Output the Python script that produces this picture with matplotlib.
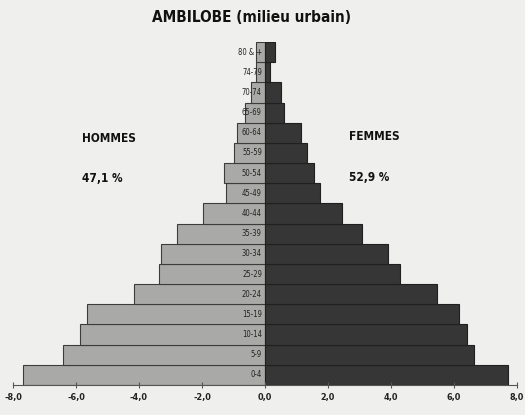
import numpy as np
import matplotlib
matplotlib.use('Agg')
from matplotlib import pyplot as plt
from matplotlib.ticker import FuncFormatter

ages = ['0-4', '5-9', '10-14', '15-19', '20-24', '25-29', '30-34', '35-39',
	'40-44', '45-49', '50-54', '55-59', '60-64', '65-69', '70-74', '74-79',
	'80 & +']
hommes = [7.68, 6.41, 5.87, 5.65, 4.16, 3.37, 3.30, 2.79, 1.98, 1.24,
	1.31, 0.99, 0.90, 0.62, 0.44, 0.29, 0.29]
femmes = [7.71, 6.63, 6.41, 6.16, 5.46, 4.29, 3.90, 3.09, 2.44, 1.75,
	1.57, 1.33, 1.15, 0.60, 0.52, 0.16, 0.32]
titre = 'AMBILOBE (milieu urbain)'
part_hommes = '47,1 %'
part_femmes = '52,9 %'

bg = '#efefed'
fig = plt.figure(figsize=(5.25, 4.15), dpi=100, facecolor=bg)
ax = fig.add_axes([13 / 525, 1 - 385 / 415, 504 / 525, 343 / 415])
ax.set_facecolor(bg)

y = np.arange(len(ages))
ax.barh(y, -np.array(hommes), height=1.0, color='#a9a9a7',
	edgecolor='#3c3c3c', linewidth=0.8)
ax.barh(y, femmes, height=1.0, color='#363636',
	edgecolor='#202020', linewidth=0.8)

fam = 'DejaVu Sans'
cond = 'condensed'

# age group labels sit just left of the centre line
for i, a in enumerate(ages):
	ax.text(-0.1, i, a, ha='right', va='center', fontsize=5.5,
		family=fam, stretch=cond, color='#222222')

ax.set_xlim(-8, 8)
ax.set_ylim(-0.5, len(ages) - 0.5)
ax.set_xticks(np.arange(-8, 9, 2))
ax.xaxis.set_major_formatter(FuncFormatter(
	lambda v, p: ('%.1f' % v).replace('.', ',')))
ax.tick_params(axis='x', direction='inout', length=5, width=0.8,
	colors='#555555', labelcolor='#222222', labelsize=6.5, pad=3)
for lab in ax.get_xticklabels():
	lab.set_family(fam)
	lab.set_stretch(cond)
	lab.set_fontweight('bold')
ax.set_yticks([])
for s in ['left', 'right', 'top']:
	ax.spines[s].set_visible(False)
ax.spines['bottom'].set_color('#555555')
ax.spines['bottom'].set_linewidth(0.8)

kw = dict(fontweight='bold', family=fam, stretch=cond, color='#111111',
	va='center')
fig.text(252 / 525, 1 - 17 / 415, titre, ha='center', fontsize=11, **kw)
fig.text(82 / 525, 1 - 138 / 415, 'HOMMES', ha='left', fontsize=8.5, **kw)
fig.text(82 / 525, 1 - 178 / 415, part_hommes, ha='left', fontsize=8.5, **kw)
fig.text(349 / 525, 1 - 136 / 415, 'FEMMES', ha='left', fontsize=8.5, **kw)
fig.text(349 / 525, 1 - 177 / 415, part_femmes, ha='left', fontsize=8.5, **kw)

fig.savefig('out.png', dpi=100, facecolor=bg)
